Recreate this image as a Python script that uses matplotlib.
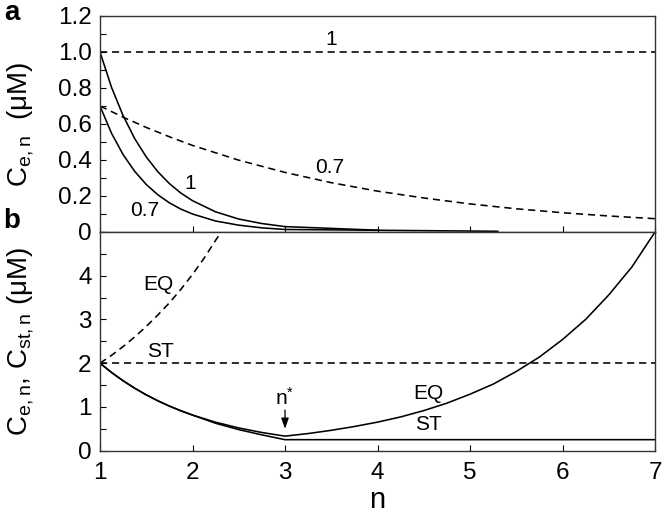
import numpy as np
import matplotlib
matplotlib.use("Agg")
import matplotlib.pyplot as plt

plt.rcParams["font.family"] = ["Liberation Sans", "DejaVu Sans"]
plt.rcParams["mathtext.default"] = "regular"

# panel a: C_e,n for two starting values (1 and 0.7 uM)
n_top_solid1 = [1.0, 1.125, 1.25, 1.375, 1.5, 1.625, 1.75, 1.875, 2.0, 2.25, 2.5, 2.75, 3.0, 4.0]
c_top_solid1 = [1.0, 0.803, 0.646, 0.519, 0.417, 0.335, 0.269, 0.216, 0.174, 0.112, 0.072, 0.047, 0.030, 0.010]
n_top_solid07 = [1.0, 1.125, 1.25, 1.375, 1.5, 1.625, 1.75, 1.875, 2.0, 2.25, 2.5, 2.75, 3.0, 5.3]
c_top_solid07 = [0.7, 0.548, 0.430, 0.337, 0.264, 0.207, 0.162, 0.127, 0.100, 0.061, 0.038, 0.023, 0.014, 0.004]
n_top_dash1 = [1.0, 7.0]
c_top_dash1 = [1.0, 1.0]
n_top_dash07 = [1.0, 1.25, 1.5, 1.75, 2.0, 2.5, 3.0, 3.5, 4.0, 4.5, 5.0, 5.5, 6.0, 6.5, 7.0]
c_top_dash07 = [0.70, 0.638, 0.581, 0.529, 0.481, 0.399, 0.331, 0.274, 0.227, 0.189, 0.156, 0.129, 0.107, 0.089, 0.074]

# panel b: EQ and ST
n_eq = [1.0, 1.125, 1.25, 1.375, 1.5, 1.625, 1.75, 1.875, 2.0, 2.25, 2.5, 2.75, 3.0,
        3.25, 3.5, 3.75, 4.0, 4.25, 4.5, 4.75, 5.0, 5.25, 5.5, 5.75, 6.0, 6.25, 6.5, 6.75, 7.0]
c_eq = [2.0, 1.786, 1.597, 1.427, 1.275, 1.139, 1.018, 0.910, 0.813, 0.649, 0.518, 0.414, 0.331,
        0.39, 0.464, 0.551, 0.651, 0.77, 0.915, 1.085, 1.29, 1.52, 1.81, 2.14, 2.54, 3.0, 3.56, 4.2, 5.0]
n_st = [1.0, 1.125, 1.25, 1.375, 1.5, 1.625, 1.75, 1.875, 2.0, 2.25, 2.5, 2.75, 3.0, 7.0]
c_st = [2.0, 1.786, 1.597, 1.427, 1.275, 1.139, 1.018, 0.910, 0.813, 0.625, 0.48, 0.36, 0.25, 0.25]
n_eq_dash = [1.0, 1.125, 1.25, 1.375, 1.5, 1.625, 1.75, 1.875, 2.0, 2.125, 2.25, 2.31]
c_eq_dash = [2.0, 2.18, 2.38, 2.60, 2.84, 3.10, 3.38, 3.69, 4.03, 4.40, 4.81, 5.0]
n_st_dash = [1.0, 7.0]
c_st_dash = [2.0, 2.0]

fig = plt.figure(figsize=(6.64, 5.15), dpi=100)
ax1 = fig.add_axes([100/664, 1-232/515, 555/664, 216/515])
ax2 = fig.add_axes([100/664, 1-450.6/515, 555/664, 218.6/515])

lw = 1.15
dash = (4.5, 3)

ax1.plot(n_top_dash1, c_top_dash1, "k--", lw=lw, dashes=dash)
ax1.plot(n_top_dash07, c_top_dash07, "k--", lw=lw, dashes=dash)
ax1.plot(n_top_solid1, c_top_solid1, "k-", lw=lw)
ax1.plot(n_top_solid07, c_top_solid07, "k-", lw=lw)

ax2.plot(n_st_dash, c_st_dash, "k--", lw=lw, dashes=dash)
ax2.plot(n_eq_dash, c_eq_dash, "k--", lw=lw, dashes=dash)
ax2.plot(n_eq, c_eq, "k-", lw=lw)
ax2.plot(n_st, c_st, "k-", lw=lw)

ax1.set_xlim(1, 7)
ax1.set_ylim(0, 1.2)
ax2.set_xlim(1, 7)
ax2.set_ylim(0, 5)

ax1.set_yticks([0, 0.2, 0.4, 0.6, 0.8, 1.0, 1.2])
ax1.set_yticklabels(["0", "0.2", "0.4", "0.6", "0.8", "1.0", "1.2"])
ax1.set_yticks(np.arange(0, 1.21, 0.1), minor=True)
ax1.set_xticks([1, 2, 3, 4, 5, 6, 7])
ax1.set_xticklabels([])

ax2.set_yticks([0, 1, 2, 3, 4])
ax2.set_yticks(np.arange(0, 5.01, 0.5), minor=True)
ax2.set_xticks([1, 2, 3, 4, 5, 6, 7])

for ax in (ax1, ax2):
    ax.tick_params(which="both", direction="in", length=4, width=0.8,
                   top=False, right=False, labelsize=17.5, pad=6, colors="black")
    ax.tick_params(axis="x", pad=8)
    for s in ax.spines.values():
        s.set_linewidth(1.0)
        s.set_color("#333333")

ax1.set_ylabel("C$_{e,n}$  ($\\mu$M)", fontsize=20)
ax1.yaxis.set_label_coords(-0.115, 0.5)
ax2.set_ylabel("C$_{e,n}$, C$_{st,n}$ ($\\mu$M)", fontsize=20)
ax2.yaxis.set_label_coords(-0.115, 0.5)
ax2.set_xlabel("n", fontsize=21, labelpad=2)

fs = 15
ax1.text(3.5, 1.07, "1", fontsize=fs, ha="center", va="center")
ax1.text(3.48, 0.36, "0.7", fontsize=fs, ha="center", va="center")
ax1.text(1.97, 0.27, "1", fontsize=fs, ha="center", va="center")
ax1.text(1.48, 0.12, "0.7", fontsize=fs, ha="center", va="center")

ax2.text(1.63, 3.79, "EQ", fontsize=fs, ha="center", va="center")
ax2.text(1.65, 2.26, "ST", fontsize=fs, ha="center", va="center")
ax2.text(4.55, 1.31, "EQ", fontsize=fs, ha="center", va="center")
ax2.text(4.55, 0.59, "ST", fontsize=fs, ha="center", va="center")
ax2.text(3.0, 1.2, "n$^{*}$", fontsize=fs, ha="center", va="center")
ax2.annotate("", xy=(3.0, 0.5), xytext=(3.0, 0.93),
             arrowprops=dict(arrowstyle="-|>,head_width=0.25,head_length=0.7", color="k", lw=0.9,
                             mutation_scale=9, shrinkA=0, shrinkB=0))

fig.text(0.018, 0.975, "a", fontsize=20, fontweight="bold", ha="center", va="center")
fig.text(0.018, 0.571, "b", fontsize=20, fontweight="bold", ha="center", va="center")

fig.savefig("out.png", dpi=100)
